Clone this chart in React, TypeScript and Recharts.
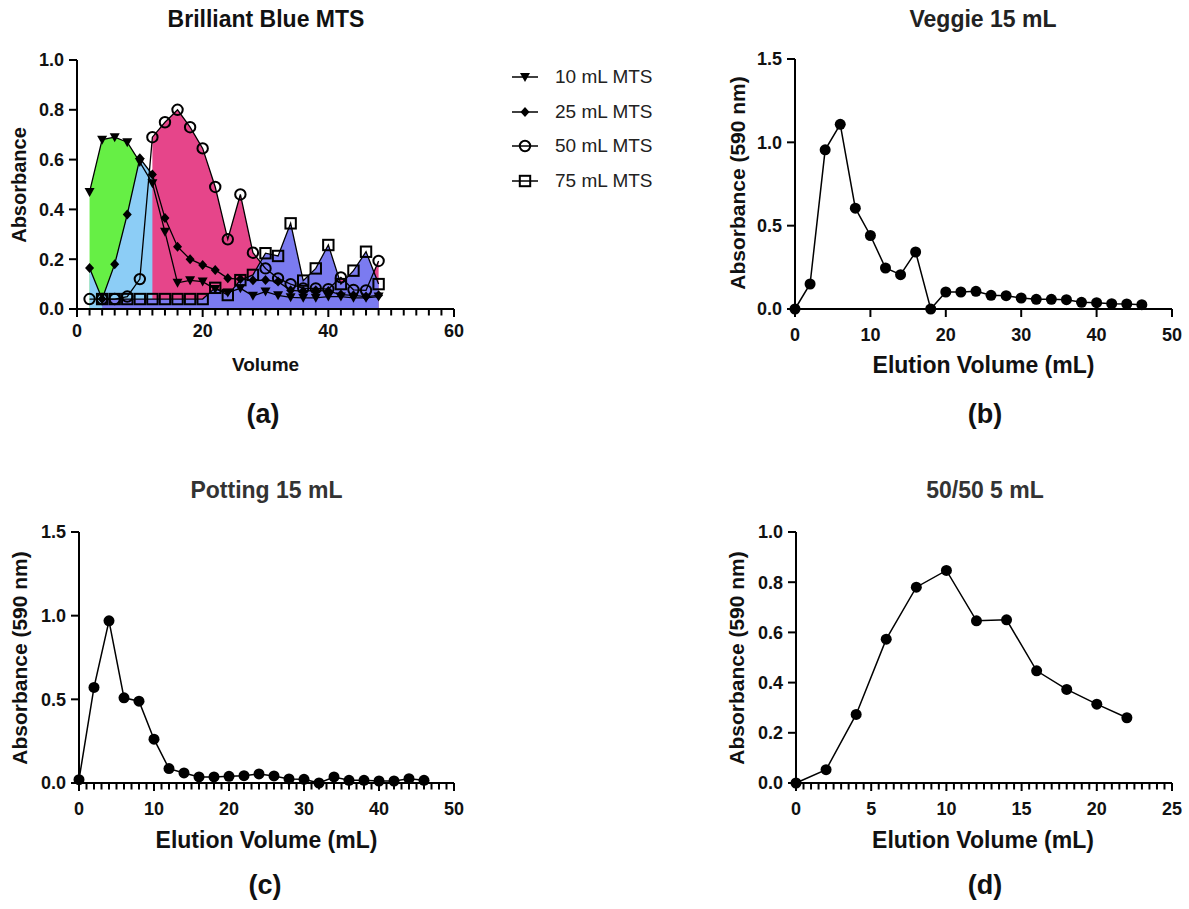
import React from 'react'
import { ComposedChart, LineChart, Line, Area, XAxis, YAxis, Legend, ReferenceLine } from 'recharts'

const FONT = '"Liberation Sans", Arial, Helvetica, sans-serif'
const INK = '#111'

// (a) Brilliant Blue MTS
const volumeA = [2, 4, 6, 8, 10, 12, 14, 16, 18, 20, 22, 24, 26, 28, 30, 32, 34, 36, 38, 40, 42, 44, 46, 48]
const mts10 = [0.47, 0.68, 0.69, 0.67, 0.59, 0.505, 0.31, 0.105, 0.115, 0.11, 0.08, 0.066, 0.083, 0.053, 0.07, 0.055, 0.047, 0.045, 0.045, 0.05, 0.05, 0.045, 0.045, 0.05]
const mts25 = [0.165, 0.04, 0.18, 0.38, 0.605, 0.54, 0.365, 0.25, 0.2, 0.177, 0.157, 0.123, 0.12, 0.115, 0.116, 0.11, 0.075, 0.072, 0.075, 0.072, 0.058, 0.055, 0.05, 0.055]
const mts50 = [0.04, 0.04, 0.04, 0.05, 0.12, 0.69, 0.75, 0.8, 0.73, 0.645, 0.49, 0.28, 0.46, 0.226, 0.163, 0.123, 0.1, 0.083, 0.083, 0.08, 0.127, 0.077, 0.075, 0.193]
const mts75 = [null, 0.04, 0.04, 0.04, 0.04, 0.04, 0.04, 0.04, 0.04, 0.04, 0.085, 0.056, 0.116, 0.137, 0.224, 0.213, 0.344, 0.114, 0.163, 0.257, 0.1, 0.154, 0.23, 0.1]
const pinkFillFrom = 12 // the 50 mL shading only starts at its main peak
const xMajorA = [0, 20, 40, 60]
const yTicksA = [0, 0.2, 0.4, 0.6, 0.8, 1.0]

// (b) Veggie 15 mL
const volumeB = [0, 2, 4, 6, 8, 10, 12, 14, 16, 18, 20, 22, 24, 26, 28, 30, 32, 34, 36, 38, 40, 42, 44, 46]
const veggie15 = [0, 0.15, 0.955, 1.108, 0.605, 0.441, 0.246, 0.206, 0.342, 0, 0.102, 0.102, 0.106, 0.082, 0.08, 0.066, 0.058, 0.058, 0.056, 0.04, 0.038, 0.032, 0.03, 0.026]
const xMajorB = [0, 10, 20, 30, 40, 50]
const yTicksB = [0, 0.5, 1.0, 1.5]

// (c) Potting 15 mL
const volumeC = [0, 2, 4, 6, 8, 10, 12, 14, 16, 18, 20, 22, 24, 26, 28, 30, 32, 34, 36, 38, 40, 42, 44, 46]
const potting15 = [0.02, 0.571, 0.969, 0.509, 0.489, 0.262, 0.086, 0.06, 0.036, 0.036, 0.04, 0.044, 0.054, 0.042, 0.024, 0.022, 0, 0.036, 0.016, 0.016, 0.012, 0.012, 0.026, 0.016]
const xMajorC = [0, 10, 20, 30, 40, 50]
const yTicksC = [0, 0.5, 1.0, 1.5]

// (d) 50/50 5 mL
const volumeD = [0, 2, 4, 6, 8, 10, 12, 14, 16, 18, 20, 22]
const mix5 = [0, 0.053, 0.273, 0.573, 0.78, 0.847, 0.646, 0.65, 0.447, 0.373, 0.314, 0.26]
const xMajorD = [0, 5, 10, 15, 20, 25]
const yTicksD = [0, 0.2, 0.4, 0.6, 0.8, 1.0]

const mtsSeries = [
  { key: 'a10', fillKey: 'a10', name: '10 mL MTS', color: '#66ef45', marker: 'triangle' },
  { key: 'a25', fillKey: 'a25', name: '25 mL MTS', color: '#8ccdf6', marker: 'diamond' },
  { key: 'a50', fillKey: 'f50', name: '50 mL MTS', color: '#e6458a', marker: 'circle' },
  { key: 'a75', fillKey: 'a75', name: '75 mL MTS', color: '#7b7bf0', marker: 'square' },
]

const rowsA = volumeA.map((v, i) => ({
  v,
  a10: mts10[i],
  a25: mts25[i],
  a50: mts50[i],
  a75: mts75[i],
  f50: v >= pinkFillFrom ? mts50[i] : null,
}))

// unlabelled ticks between the labelled ones
function minorValues(majors: number[], perGap: number) {
  const out: number[] = []
  for (let i = 0; i < majors.length - 1; i++) {
    const step = (majors[i + 1] - majors[i]) / (perGap + 1)
    for (let k = 1; k <= perGap; k++) out.push(+(majors[i] + k * step).toFixed(3))
  }
  return out
}

function Marker({ kind, cx, cy }: { kind: string; cx: number; cy: number }) {
  if (kind === 'triangle')
    return <path d={`M${cx - 5},${cy - 4}L${cx + 5},${cy - 4}L${cx},${cy + 5}Z`} fill="#000" />
  if (kind === 'diamond')
    return <path d={`M${cx},${cy - 5}L${cx + 4.5},${cy}L${cx},${cy + 5}L${cx - 4.5},${cy}Z`} fill="#000" />
  if (kind === 'circle')
    return <circle cx={cx} cy={cy} r={5.2} fill="none" stroke="#000" strokeWidth={2} />
  return <rect x={cx - 5.2} y={cy - 5.2} width={10.4} height={10.4} fill="none" stroke="#000" strokeWidth={2} />
}

const makeXTick = (labelDy: number) => (props: any) => {
  const { x, y, payload } = props
  return (
    <g>
      <line x1={x} x2={x} y1={y} y2={y + 8} stroke="#000" strokeWidth={2} />
      <text x={x} y={y + labelDy} textAnchor="middle" fontSize={18} fontWeight="bold" fill={INK} fontFamily={FONT}>
        {payload.value}
      </text>
    </g>
  )
}

// minor ticks as short segments hanging under the x axis (length given in data units)
function minorTickLines(values: number[], len: number, prefix: string) {
  return values.map((v) => (
    <ReferenceLine
      key={`${prefix}-${v}`}
      segment={[
        { x: v, y: 0 },
        { x: v, y: -len },
      ]}
      ifOverflow="visible"
      stroke="#000"
      strokeWidth={2}
    />
  ))
}

const yTickStyle = { fontSize: 18, fontWeight: 'bold', fill: INK, fontFamily: FONT }
const axisStroke = { stroke: '#000', strokeWidth: 2 }

type Box = { left: number; top: number; width: number; height: number }
type Plot = { left: number; top: number; right: number; bottom: number }

function frame(box: Box, plot: Plot) {
  return {
    margin: { top: plot.top - box.top, right: box.left + box.width - plot.right, bottom: 0, left: 0 },
    yWidth: plot.left - box.left,
    xHeight: box.top + box.height - plot.bottom,
  }
}

function MtsLegend() {
  return (
    <div style={{ fontFamily: FONT, fontSize: 19, color: '#222' }}>
      {mtsSeries.map((s) => (
        <div key={s.key} style={{ display: 'flex', alignItems: 'center', height: 34.5 }}>
          <svg width={45} height={20}>
            <line x1={2} x2={28} y1={10} y2={10} stroke="#000" strokeWidth={1.5} />
            <Marker kind={s.marker} cx={15} cy={10} />
          </svg>
          <span>{s.name}</span>
        </div>
      ))}
    </div>
  )
}

function MtsChart() {
  const box = { left: 0, top: 30, width: 700, height: 320 }
  const plot = { left: 77, top: 60, right: 454, bottom: 309 }
  const f = frame(box, plot)
  const tickLen = (6.5 / (plot.bottom - plot.top)) * 1.0
  return (
    <div style={{ position: 'absolute', left: box.left, top: box.top }}>
      <ComposedChart width={box.width} height={box.height} data={rowsA} margin={f.margin}>
        <XAxis
          dataKey="v"
          type="number"
          domain={[0, 60]}
          ticks={xMajorA}
          interval={0}
          height={f.xHeight}
          tickSize={0}
          tickMargin={0}
          tickLine={false}
          axisLine={axisStroke}
          tick={makeXTick(28)}
        />
        <YAxis
          type="number"
          domain={[0, 1]}
          ticks={yTicksA}
          interval={0}
          width={f.yWidth}
          tickSize={8}
          tickMargin={5}
          tickFormatter={(v: number) => v.toFixed(1)}
          tick={yTickStyle}
          axisLine={axisStroke}
          tickLine={axisStroke}
        />
        {mtsSeries.map((s) => (
          <Area
            key={`fill-${s.key}`}
            type="linear"
            dataKey={s.fillKey}
            fill={s.color}
            fillOpacity={1}
            stroke="none"
            baseValue={0}
            dot={false}
            activeDot={false}
            legendType="none"
            isAnimationActive={false}
          />
        ))}
        {minorTickLines(minorValues(xMajorA, 9), tickLen, 'a')}
        {mtsSeries.map((s) => (
          <Line
            key={`line-${s.key}`}
            type="linear"
            dataKey={s.key}
            name={s.name}
            stroke="#000"
            strokeWidth={1.3}
            activeDot={false}
            dot={(p: any) =>
              p.cx == null || p.cy == null || p.value == null ? (
                <g key={`${s.key}-${p.index}`} />
              ) : (
                <Marker key={`${s.key}-${p.index}`} kind={s.marker} cx={p.cx} cy={p.cy} />
              )
            }
            isAnimationActive={false}
          />
        ))}
        <Legend
          layout="vertical"
          align="center"
          verticalAlign="middle"
          content={() => <MtsLegend />}
          wrapperStyle={{ position: 'absolute', left: 510, top: 30, width: 180 }}
        />
      </ComposedChart>
    </div>
  )
}

interface ElutionChartProps {
  box: Box
  plot: Plot
  volume: number[]
  values: number[]
  xMajors: number[]
  minorCount: number
  yTicks: number[]
}

function ElutionChart({ box, plot, volume, values, xMajors, minorCount, yTicks }: ElutionChartProps) {
  const f = frame(box, plot)
  const data = volume.map((v, i) => ({ v, abs: values[i] }))
  const yMax = yTicks[yTicks.length - 1]
  const tickLen = (6.5 / (plot.bottom - plot.top)) * yMax
  return (
    <div style={{ position: 'absolute', left: box.left, top: box.top }}>
      <LineChart width={box.width} height={box.height} data={data} margin={f.margin}>
        <XAxis
          dataKey="v"
          type="number"
          domain={[0, xMajors[xMajors.length - 1]]}
          ticks={xMajors}
          interval={0}
          height={f.xHeight}
          tickSize={0}
          tickMargin={0}
          tickLine={false}
          axisLine={axisStroke}
          tick={makeXTick(32)}
        />
        <YAxis
          type="number"
          domain={[0, yMax]}
          ticks={yTicks}
          interval={0}
          width={f.yWidth}
          tickSize={8}
          tickMargin={5}
          tickFormatter={(v: number) => v.toFixed(1)}
          tick={yTickStyle}
          axisLine={axisStroke}
          tickLine={axisStroke}
        />
        {minorCount > 0 && minorTickLines(minorValues(xMajors, minorCount), tickLen, 'm')}
        <Line
          type="linear"
          dataKey="abs"
          stroke="#000"
          strokeWidth={1.5}
          dot={{ r: 5.5, fill: '#000', stroke: 'none' }}
          activeDot={false}
          isAnimationActive={false}
        />
      </LineChart>
    </div>
  )
}

function TextAt({ text, cx, baseline, size, color = INK, weight = 700 }: { text: string; cx: number; baseline: number; size: number; color?: string; weight?: number }) {
  return (
    <div
      style={{
        position: 'absolute',
        left: cx - 300,
        width: 600,
        top: baseline - 0.8465 * size,
        textAlign: 'center',
        fontSize: size,
        lineHeight: `${size}px`,
        fontWeight: weight,
        color,
        whiteSpace: 'nowrap',
      }}
    >
      {text}
    </div>
  )
}

function VTextAt({ text, cx, cy, size }: { text: string; cx: number; cy: number; size: number }) {
  return (
    <div
      style={{
        position: 'absolute',
        left: cx,
        top: cy,
        transform: 'translate(-50%, -50%) rotate(-90deg)',
        fontSize: size,
        lineHeight: `${size}px`,
        fontWeight: 700,
        color: INK,
        whiteSpace: 'nowrap',
      }}
    >
      {text}
    </div>
  )
}

export default function App() {
  return (
    <div
      style={{
        position: 'absolute',
        left: 0,
        top: 0,
        width: 1189,
        height: 909,
        background: '#fff',
        fontFamily: FONT,
        overflow: 'hidden',
      }}
    >
      {/* (a) */}
      <MtsChart />
      <TextAt text="Brilliant Blue MTS" cx={266} baseline={27} size={23} />
      <VTextAt text="Absorbance" cx={19} cy={184.5} size={20} />
      <TextAt text="Volume" cx={265.5} baseline={371.5} size={19} />
      <TextAt text="(a)" cx={263} baseline={424} size={27} />

      {/* (b) */}
      <ElutionChart
        box={{ left: 700, top: 30, width: 489, height: 320 }}
        plot={{ left: 795, top: 59, right: 1172, bottom: 309 }}
        volume={volumeB}
        values={veggie15}
        xMajors={xMajorB}
        minorCount={0}
        yTicks={yTicksB}
      />
      <TextAt text="Veggie 15 mL" cx={983} baseline={27} size={23} color="#222" />
      <VTextAt text="Absorbance (590 nm)" cx={736.5} cy={183} size={21} />
      <TextAt text="Elution Volume (mL)" cx={983.5} baseline={373} size={23} />
      <TextAt text="(b)" cx={985} baseline={424} size={27} />

      {/* (c) */}
      <ElutionChart
        box={{ left: 0, top: 500, width: 470, height: 330 }}
        plot={{ left: 79, top: 532, right: 454, bottom: 783 }}
        volume={volumeC}
        values={potting15}
        xMajors={xMajorC}
        minorCount={9}
        yTicks={yTicksC}
      />
      <TextAt text="Potting 15 mL" cx={266.5} baseline={498} size={23} color="#333" />
      <VTextAt text="Absorbance (590 nm)" cx={19} cy={657.5} size={21} />
      <TextAt text="Elution Volume (mL)" cx={266.5} baseline={848} size={23} />
      <TextAt text="(c)" cx={265} baseline={895} size={27} />

      {/* (d) */}
      <ElutionChart
        box={{ left: 700, top: 500, width: 489, height: 330 }}
        plot={{ left: 796, top: 532, right: 1172, bottom: 783 }}
        volume={volumeD}
        values={mix5}
        xMajors={xMajorD}
        minorCount={9}
        yTicks={yTicksD}
      />
      <TextAt text="50/50 5 mL" cx={985} baseline={498} size={23} color="#333" />
      <VTextAt text="Absorbance (590 nm)" cx={736} cy={657.5} size={21} />
      <TextAt text="Elution Volume (mL)" cx={983} baseline={848} size={23} />
      <TextAt text="(d)" cx={985} baseline={895} size={27} />
    </div>
  )
}
